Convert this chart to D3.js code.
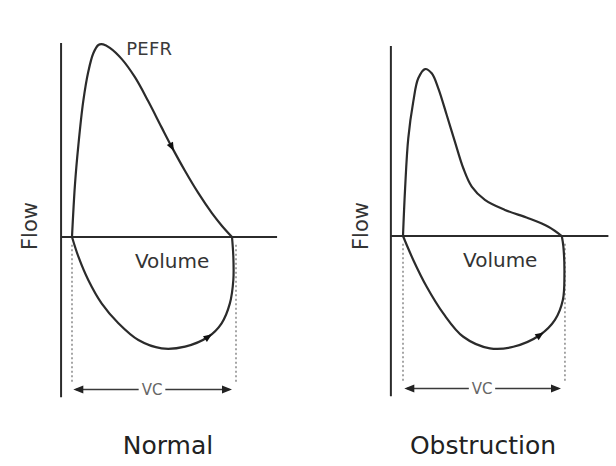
<!DOCTYPE html>
<html>
<head>
<meta charset="utf-8">
<script src="https://cdn.jsdelivr.net/npm/d3@7"></script>
<style>
  html, body { margin: 0; padding: 0; background: #fff; }
  svg { display: block; }
  text { font-family: "DejaVu Sans", Verdana, sans-serif; fill: #333; }
</style>
</head>
<body>
<svg id="chart" width="616" height="466"></svg>
<script>
// ---- Data (volume in L from start of VC, flow in L/s, arbitrary units) ----
const panelTitles = ["Normal", "Obstruction"];

const normalExpVolume = [0, 0.11, 0.24, 0.42, 0.61, 0.80, 0.99, 1.17, 1.42, 1.86, 2.36, 2.86, 3.36, 3.74, 4.24, 4.74, 5.24, 5.61, 6.0];
const normalExpFlow   = [0, 2.69, 4.77, 7.01, 8.56, 9.52, 9.95, 9.98, 9.80, 9.23, 8.28, 7.03, 5.68, 4.67, 3.42, 2.27, 1.25, 0.60, 0];
const normalInspVolume = [0, 0.24, 0.61, 1.11, 1.74, 2.49, 3.36, 4.24, 5.11, 5.61, 5.92, 6.05, 6.05, 6.0];
const normalInspFlow   = [0, -1.02, -2.23, -3.44, -4.47, -5.34, -5.77, -5.68, -5.17, -4.47, -3.44, -2.23, -1.02, 0];

const obstrExpVolume = [0, 0.08, 0.20, 0.39, 0.58, 0.84, 1.09, 1.34, 1.66, 1.97, 2.29, 2.61, 3.11, 3.87, 4.76, 5.52, 6.03];
const obstrExpFlow   = [0, 2.47, 5.06, 6.96, 8.17, 8.65, 8.43, 7.65, 6.27, 4.89, 3.51, 2.56, 1.87, 1.35, 0.92, 0.48, 0];
const obstrInspVolume = [0, 0.39, 0.90, 1.53, 2.29, 3.30, 4.19, 5.20, 5.77, 6.07, 6.13, 6.09, 6.03];
const obstrInspFlow   = [0, -1.24, -2.63, -4.01, -5.22, -5.82, -5.74, -5.13, -4.35, -3.32, -1.93, -0.55, 0];

// arrow markers (volume position along each loop; null = none)
const normalArrows = { exp: 3.74, insp: 5.11 };
const obstrArrows  = { exp: null, insp: 5.2 };

const vcLabel = "VC";
const xLabel = "Volume";
const yLabel = "Flow";
const peakLabel = "PEFR";

// ---- Layout ----
const svg = d3.select("#chart");
const ink = "#2b2b2b";

const panels = [
  { title: panelTitles[0], expV: normalExpVolume, expF: normalExpFlow, insV: normalInspVolume, insF: normalInspFlow,
    arrows: normalArrows, xr: [72, 232], y0: 237, axisLeftV: -0.41, axisRightV: 7.69, yTopF: 10.05, vcRight: 6.15,
    peak: true, volX: 2.36, titleX: 168, flowX: 29 },
  { title: panelTitles[1], expV: obstrExpVolume, expF: obstrExpFlow, insV: obstrInspVolume, insF: obstrInspFlow,
    arrows: obstrArrows, xr: [403, 561], y0: 236, axisLeftV: -0.46, axisRightV: 7.8, yTopF: 9.85, vcRight: 6.15,
    peak: false, volX: 2.28, titleX: 483, flowX: 360 }
];

panels.forEach(p => {
  const x = d3.scaleLinear().domain([0, 6]).range(p.xr);
  const y = d3.scaleLinear().domain([0, 10]).range([p.y0, p.y0 - 193]);
  const g = svg.append("g");

  // dotted VC guides
  const dotted = [0, p.vcRight];
  g.selectAll(".guide").data(dotted).join("line")
    .attr("x1", d => x(d)).attr("x2", d => x(d))
    .attr("y1", y(-0.4)).attr("y2", y(-7.6))
    .attr("stroke", "#888").attr("stroke-width", 1.5)
    .attr("stroke-dasharray", "2,2.5");

  // axes
  g.append("line")
    .attr("x1", x(p.axisLeftV)).attr("x2", x(p.axisLeftV))
    .attr("y1", y(p.yTopF)).attr("y2", y(-8.3))
    .attr("stroke", ink).attr("stroke-width", 2);
  g.append("line")
    .attr("x1", x(p.axisLeftV)).attr("x2", x(p.axisRightV))
    .attr("y1", y(0)).attr("y2", y(0))
    .attr("stroke", ink).attr("stroke-width", 2);

  const line = d3.line().x(d => x(d[0])).y(d => y(d[1])).curve(d3.curveCatmullRom.alpha(0.5));
  const expPts = p.expV.map((v, i) => [v, p.expF[i]]);
  const insPts = p.insV.map((v, i) => [v, p.insF[i]]);

  const expPath = g.append("path").attr("d", line(expPts))
    .attr("fill", "none").attr("stroke", ink).attr("stroke-width", 2.2);
  const insPath = g.append("path").attr("d", line(insPts))
    .attr("fill", "none").attr("stroke", ink).attr("stroke-width", 2.2);

  // arrow markers placed on the path at given volume
  function arrowAt(pathSel, vol) {
    const node = pathSel.node();
    const L = node.getTotalLength();
    const tx = x(vol);
    let best = 0, bestD = Infinity;
    for (let s = 0; s <= L; s += 0.5) {
      const pt = node.getPointAtLength(s);
      const d = Math.abs(pt.x - tx);
      if (d < bestD) { bestD = d; best = s; }
    }
    const a = node.getPointAtLength(Math.max(0, best - 2));
    const b = node.getPointAtLength(Math.min(L, best + 2));
    const ang = Math.atan2(b.y - a.y, b.x - a.x) * 180 / Math.PI;
    const c = node.getPointAtLength(best);
    g.append("path").attr("d", "M4.5,0 L-4,-3.5 L-4,3.5 Z")
      .attr("fill", "#111")
      .attr("transform", `translate(${c.x},${c.y}) rotate(${ang})`);
  }
  if (p.arrows.exp !== null) arrowAt(expPath, p.arrows.exp);
  if (p.arrows.insp !== null) arrowAt(insPath, p.arrows.insp);

  // VC double arrow
  const vy = y(-7.9);
  g.append("line").attr("x1", x(0.15)).attr("x2", x(2.5)).attr("y1", vy).attr("y2", vy)
    .attr("stroke", "#3a3a3a").attr("stroke-width", 1.4);
  g.append("line").attr("x1", x(3.5)).attr("x2", x(5.9)).attr("y1", vy).attr("y2", vy)
    .attr("stroke", "#3a3a3a").attr("stroke-width", 1.4);
  g.append("path").attr("d", `M${x(0.05)},${vy} l10,-4 l0,8 Z`).attr("fill", "#222");
  g.append("path").attr("d", `M${x(6.0)},${vy} l-10,-4 l0,8 Z`).attr("fill", "#222");
  g.append("text").attr("x", x(3)).attr("y", vy).attr("dy", "0.36em")
    .attr("text-anchor", "middle").attr("font-size", 15).style("fill", "#666").text(vcLabel);

  // labels
  g.append("text").attr("x", x(p.volX)).attr("y", y(-0.85)).attr("dy", "0.72em")
    .attr("font-size", 20).style("fill", "#333").text(xLabel);
  g.append("text").attr("transform", `translate(${p.flowX},226) rotate(-90)`)
    .attr("text-anchor", "middle").attr("dy", "0.36em").attr("font-size", 21).text(yLabel);
  if (p.peak) {
    g.append("text").attr("x", x(2.03)).attr("y", y(9.75)).attr("dy", "0.36em")
      .attr("font-size", 18).style("fill", "#3a3a3a").attr("textLength", 46).text(peakLabel);
  }
  g.append("text").attr("x", p.titleX).attr("y", 445).attr("dy", "0.36em")
    .attr("text-anchor", "middle").attr("font-size", 25).style("fill", "#222").text(p.title);
});
</script>
</body>
</html>
